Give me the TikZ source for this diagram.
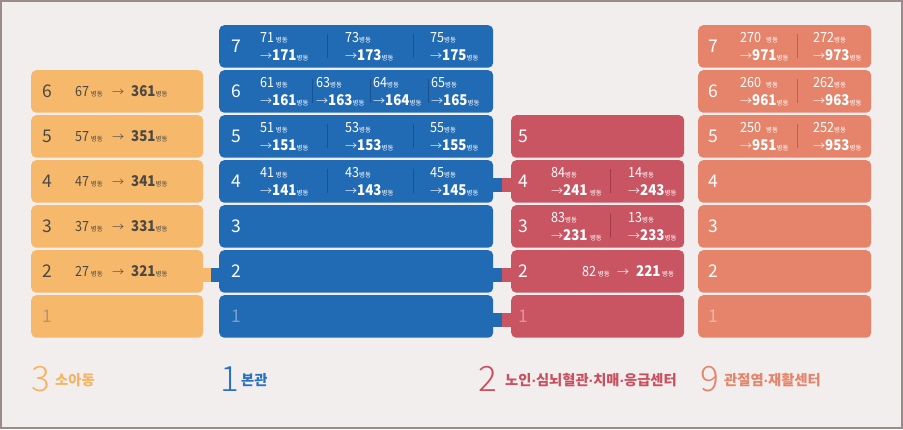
\documentclass[tikz,border=0pt]{standalone}
\usepackage{fontspec}
\setmainfont{Noto Sans CJK KR}
\newfontfamily\arrowfont{DejaVu Sans}
\newfontfamily\numfont[FakeStretch=0.9]{Noto Sans CJK KR}
\IfFontExistsTF{Noto Sans CJK KR Light}
  {\newfontfamily\thinfont{Noto Sans CJK KR Light}}
  {\IfFontExistsTF{DejaVu Sans ExtraLight}
     {\newfontfamily\thinfont{DejaVu Sans ExtraLight}}
     {\newfontfamily\thinfont{Noto Sans CJK KR}}}
\usetikzlibrary{calc}
\definecolor{bg}{HTML}{F2EEED}
\definecolor{framec}{HTML}{9C8B8B}
\definecolor{orn}{HTML}{F6B96B}
\definecolor{blu}{HTML}{216AB4}
\definecolor{crd}{HTML}{C95563}
\definecolor{sal}{HTML}{E5846B}
\definecolor{ink}{HTML}{4D4842}
\definecolor{ofade}{HTML}{B8956A}
\definecolor{bfade}{HTML}{7A9FCC}
\definecolor{rfade}{HTML}{E4909A}
\definecolor{sfade}{HTML}{F2B6A4}
\definecolor{bsep}{HTML}{18528F}
\definecolor{rsep}{HTML}{9E3D49}
\definecolor{ssep}{HTML}{B9634E}
\definecolor{lgor}{HTML}{F4B462}
\definecolor{lgbl}{HTML}{2A72BE}
\definecolor{lgrd}{HTML}{C9505F}
\definecolor{lgsa}{HTML}{E5846B}
\newcommand\wsm{{\fontsize{6.5}{7}\selectfont 병동}}
\newcommand\wnum[1]{{\numfont\fontsize{14}{14}\selectfont #1}}
\newcommand\wbnum[1]{{\numfont\fontsize{14.8}{14}\selectfont\bfseries #1}}
\newcommand\warr{{\thinfont\fontsize{12}{12}\selectfont →}}
\newcommand\mdot{{\arrowfont\fontsize{12}{12}\selectfont ·}}
\tikzset{
  floorbox/.style={rounded corners=5pt, minimum height=42.5pt, inner sep=0pt, anchor=north west, draw=none},
  flr/.style={anchor=base west, inner sep=0pt, font=\fontsize{17.5}{17}\selectfont},
  lbl/.style={anchor=base west, inner sep=0pt},
  bignum/.style={anchor=base west, inner sep=0pt, font=\thinfont\fontsize{35}{35}\selectfont},
  legtext/.style={anchor=base west, inner sep=0pt, font=\fontsize{14.3}{14}\selectfont\bfseries},
}
% two-line ward entry: name, x, row centre, old, new, gap
\newcommand\pair[6]{%
  \node[lbl] (#1a) at (#2,#3-3.3) {\wnum{#4}#6\wsm};
  \node[lbl] (#1b) at (#2,#3+13.8) {\warr\wbnum{#5}\wsm};
}
\newcommand\sep[3]{\draw[#3, line width=0.9pt] (#1,#2-12) -- (#1,#2+12);}
\begin{document}
\begin{tikzpicture}[x=1pt,y=-1pt]
\useasboundingbox (0,0) rectangle (903,429);
\fill[bg] (0,0) rectangle (903,429);
\draw[framec, line width=2pt] (1,1) rectangle (902,428);

% floor boxes
\foreach \k in {1,...,6}{\node[floorbox, fill=orn, minimum width=172pt] (o\k) at (31,{295-45*(\k-1)}) {};}
\foreach \k in {1,...,7}{\node[floorbox, fill=blu, minimum width=274pt] (b\k) at (219,{295-45*(\k-1)}) {};}
\foreach \k in {1,...,5}{\node[floorbox, fill=crd, minimum width=173pt] (r\k) at (511,{295-45*(\k-1)}) {};}
\foreach \k in {1,...,7}{\node[floorbox, fill=sal, minimum width=173pt] (s\k) at (698,{295-45*(\k-1)}) {};}

% bridges between buildings
\fill[orn] ($(o2.east)+(-3,-3)$) rectangle ($(o2.east)+(8,11)$);
\fill[blu] ($(o2.east)+(8,-3)$) rectangle ($(b2.west)+(3,11)$);
\foreach \k in {4,2,1}{
  \fill[blu] ($(b\k.east)+(-3,-3)$) rectangle ($(b\k.east)+(9,11)$);
  \fill[crd] ($(b\k.east)+(9,-3)$) rectangle ($(r\k.west)+(3,11)$);
}

% floor numbers
\foreach \k in {2,...,6}{\node[flr, text=ink] (on\k) at (42,{316.25-45*(\k-1)+6.2}) {\k};}
\node[flr, text=ofade] (on1) at (42,322.45) {1};
\foreach \k in {2,...,7}{\node[flr, text=white] (bn\k) at (231,{316.25-45*(\k-1)+6.2}) {\k};}
\node[flr, text=bfade] (bn1) at (231,322.45) {1};
\foreach \k in {2,...,5}{\node[flr, text=white] (rn\k) at (518,{316.25-45*(\k-1)+6.2}) {\k};}
\node[flr, text=rfade] (rn1) at (518,322.45) {1};
\foreach \k in {2,...,7}{\node[flr, text=white] (sn\k) at (708,{316.25-45*(\k-1)+6.2}) {\k};}
\node[flr, text=sfade] (sn1) at (708,322.45) {1};

% paediatric wing
\foreach \k in {2,...,6}{
  \node[lbl, text=ink] (oa\k) at (75,{316.25-45*(\k-1)+5.4}) {\wnum{\k7}\,\wsm};
  \node[lbl, text=ink] (ob\k) at (112,{316.25-45*(\k-1)+5.4}) {\warr};
  \node[lbl, text=ink] (oc\k) at (131,{316.25-45*(\k-1)+5.4}) {\wbnum{3\k1}\wsm};
}

% main building
\begin{scope}[text=white]
\pair{b7x}{260}{46.25}{71}{171}{\,}
\pair{b7y}{345}{46.25}{73}{173}{}
\pair{b7z}{430}{46.25}{75}{175}{}
\pair{b6w}{260}{91.25}{61}{161}{\,}
\pair{b6x}{316}{91.25}{63}{163}{}
\pair{b6y}{373}{91.25}{64}{164}{}
\pair{b6z}{431}{91.25}{65}{165}{}
\pair{b5x}{260}{136.25}{51}{151}{\,}
\pair{b5y}{345}{136.25}{53}{153}{}
\pair{b5z}{430}{136.25}{55}{155}{}
\pair{b4x}{260}{181.25}{41}{141}{\,}
\pair{b4y}{345}{181.25}{43}{143}{}
\pair{b4z}{430}{181.25}{45}{145}{}
\end{scope}
\sep{327}{46.25}{bsep}\sep{413}{46.25}{bsep}
\sep{312}{91.25}{bsep}\sep{370}{91.25}{bsep}\sep{428}{91.25}{bsep}
\sep{327}{136.25}{bsep}\sep{413}{136.25}{bsep}
\sep{327}{181.25}{bsep}\sep{413}{181.25}{bsep}

% senior / cardio centre
\begin{scope}[text=white]
\pair{r4x}{551}{181.25}{84}{241\,}{}
\pair{r4y}{628}{181.25}{14}{243}{}
\pair{r3x}{551}{226.25}{83}{231\,}{}
\pair{r3y}{628}{226.25}{13}{233}{}
\node[lbl] (r2a) at (582,276.65) {\wnum{82}\,\wsm};
\node[lbl] (r2b) at (617,276.65) {\warr};
\node[lbl] (r2c) at (636,276.65) {\wbnum{221}\,\wsm};
\end{scope}
\sep{610}{181.25}{rsep}\sep{610}{226.25}{rsep}

% joint / rehab centre
\begin{scope}[text=white]
\pair{s7x}{740}{46.25}{270}{971}{\enspace}
\pair{s7y}{813}{46.25}{272}{973}{}
\pair{s6x}{740}{91.25}{260}{961}{\enspace}
\pair{s6y}{813}{91.25}{262}{963}{}
\pair{s5x}{740}{136.25}{250}{951}{\enspace}
\pair{s5y}{813}{136.25}{252}{953}{}
\end{scope}
\sep{797}{46.25}{ssep}\sep{797}{91.25}{ssep}\sep{797}{136.25}{ssep}

% legend
\node[bignum, text=lgor] (l3) at (31,391) {3};
\node[legtext, text=lgor] (l3t) at (55,385) {소아동};
\node[bignum, text=lgbl] (l1) at (220,391) {1};
\node[legtext, text=lgbl] (l1t) at (241,385) {본관};
\node[bignum, text=lgrd] (l2) at (478,391) {2};
\node[legtext, text=lgrd] (l2t) at (505,385) {노인\mdot 심뇌혈관\mdot 치매\mdot 응급센터};
\node[bignum, text=lgsa] (l9) at (700,391) {9};
\node[legtext, text=lgsa] (l9t) at (724,385) {관절염\mdot 재활센터};
\end{tikzpicture}
\end{document}
